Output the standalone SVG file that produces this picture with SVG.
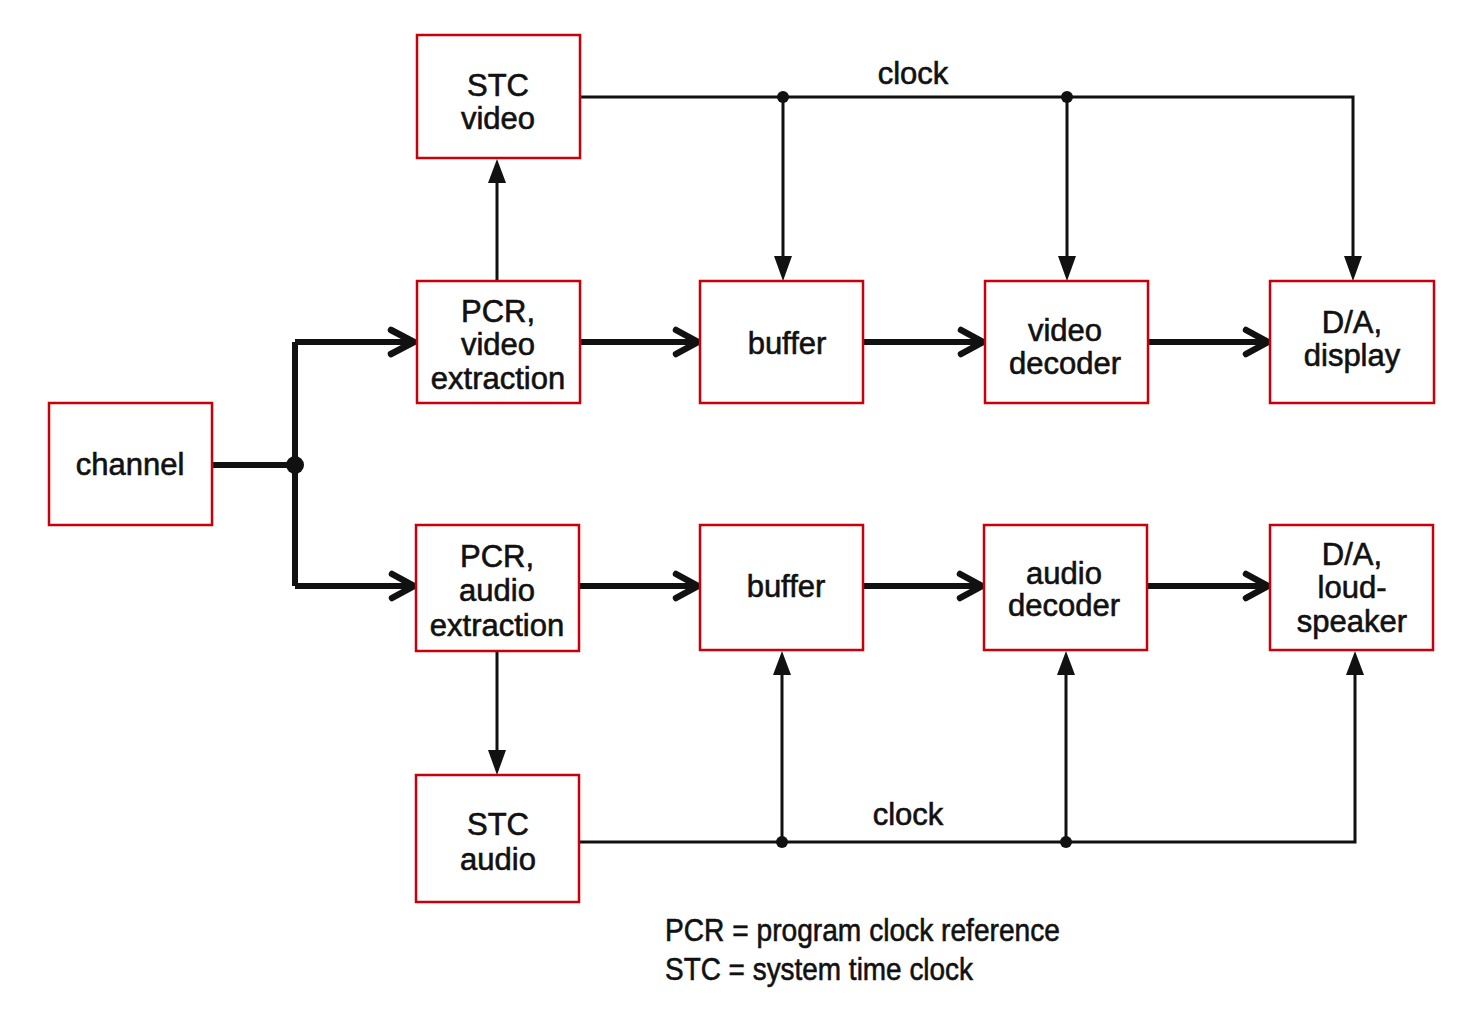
<svg xmlns="http://www.w3.org/2000/svg" width="1473" height="1017" viewBox="0 0 1473 1017">
<style>
.box{fill:#fff;stroke:#c8000a;stroke-width:2.5}
.t{font-family:"Liberation Sans",Arial,sans-serif;font-size:31px;fill:#111;stroke:#111;stroke-width:0.6;text-anchor:middle}
.thin{stroke:#111;stroke-width:3;fill:none}
.thick{stroke:#111;stroke-width:6;fill:none}
.chev{stroke:#111;stroke-width:6.5;fill:none;stroke-linecap:round;stroke-linejoin:miter}
.tri{fill:#111}
</style>
<rect width="1473" height="1017" fill="#fff"/>
<g id="connectors">
  <path class="thick" d="M212 465 H295 M295 342 V586 M295 342 H412 M295 586 H412"/>
  <circle cx="295" cy="465" r="9" fill="#111"/>
  <path class="thick" d="M580 342 H695 M863 342 H980 M1148 342 H1265"/>
  <path class="thick" d="M579 586 H695 M863 586 H979 M1147 586 H1265"/>
  <g class="chev">
    <path d="M391 330 L414 342 L391 354"/>
    <path d="M392 574 L414 586 L392 598"/>
    <path d="M676 330 L698 342 L676 354"/>
    <path d="M961 330 L983 342 L961 354"/>
    <path d="M1246 330 L1268 342 L1246 354"/>
    <path d="M676 574 L698 586 L676 598"/>
    <path d="M960 574 L982 586 L960 598"/>
    <path d="M1246 574 L1268 586 L1246 598"/>
  </g>
  <path class="thin" d="M497 281 V180 M580 97 H1353 V258 M783 97 V258 M1067 97 V258"/>
  <circle cx="783" cy="97" r="6" fill="#111"/>
  <circle cx="1067" cy="97" r="6" fill="#111"/>
  <path class="tri" d="M488 183 L497 159 L506 183 Z"/>
  <path class="tri" d="M774 256 L783 281 L792 256 Z"/>
  <path class="tri" d="M1058 256 L1067 281 L1076 256 Z"/>
  <path class="tri" d="M1344 256 L1353 281 L1362 256 Z"/>
  <text class="t" x="913" y="84">clock</text>
  <path class="thin" d="M497 651 V752 M579 842 H1355 V673 M782 842 V673 M1066 842 V673"/>
  <circle cx="782" cy="842" r="6" fill="#111"/>
  <circle cx="1066" cy="842" r="6" fill="#111"/>
  <path class="tri" d="M488 750 L497 775 L506 750 Z"/>
  <path class="tri" d="M773 675 L782 651 L791 675 Z"/>
  <path class="tri" d="M1057 675 L1066 651 L1075 675 Z"/>
  <path class="tri" d="M1346 675 L1355 651 L1364 675 Z"/>
  <text class="t" x="908" y="825">clock</text>
</g>
<g id="stc-video"><rect class="box" x="417" y="35" width="163" height="123"/>
  <text class="t" x="498" y="96">STC</text><text class="t" x="498" y="129">video</text></g>
<g id="pcr-video"><rect class="box" x="417" y="281" width="163" height="122"/>
  <text class="t" x="498" y="322">PCR,</text><text class="t" x="498" y="355">video</text><text class="t" x="498" y="389">extraction</text></g>
<g id="buffer-video"><rect class="box" x="700" y="281" width="163" height="122"/>
  <text class="t" x="787" y="354">buffer</text></g>
<g id="video-decoder"><rect class="box" x="985" y="281" width="163" height="122"/>
  <text class="t" x="1065" y="341">video</text><text class="t" x="1065" y="374">decoder</text></g>
<g id="da-display"><rect class="box" x="1270" y="281" width="164" height="122"/>
  <text class="t" x="1352" y="333">D/A,</text><text class="t" x="1352" y="366">display</text></g>
<g id="channel"><rect class="box" x="49" y="403" width="163" height="122"/>
  <text class="t" x="130" y="475">channel</text></g>
<g id="pcr-audio"><rect class="box" x="416" y="525" width="163" height="126"/>
  <text class="t" x="497" y="567">PCR,</text><text class="t" x="497" y="601">audio</text><text class="t" x="497" y="636">extraction</text></g>
<g id="buffer-audio"><rect class="box" x="700" y="525" width="163" height="125"/>
  <text class="t" x="786" y="597">buffer</text></g>
<g id="audio-decoder"><rect class="box" x="984" y="525" width="163" height="125"/>
  <text class="t" x="1064" y="584">audio</text><text class="t" x="1064" y="616">decoder</text></g>
<g id="da-loudspeaker"><rect class="box" x="1270" y="525" width="163" height="125"/>
  <text class="t" x="1352" y="565">D/A,</text><text class="t" x="1352" y="598">loud-</text><text class="t" x="1352" y="632">speaker</text></g>
<g id="stc-audio"><rect class="box" x="416" y="775" width="163" height="127"/>
  <text class="t" x="498" y="835">STC</text><text class="t" x="498" y="870">audio</text></g>
<g id="legend">
  <text class="t" style="text-anchor:start;font-size:32px" x="665" y="941" textLength="395" lengthAdjust="spacingAndGlyphs">PCR = program clock reference</text>
  <text class="t" style="text-anchor:start;font-size:32px" x="665" y="980" textLength="308" lengthAdjust="spacingAndGlyphs">STC = system time clock</text>
</g>
</svg>
